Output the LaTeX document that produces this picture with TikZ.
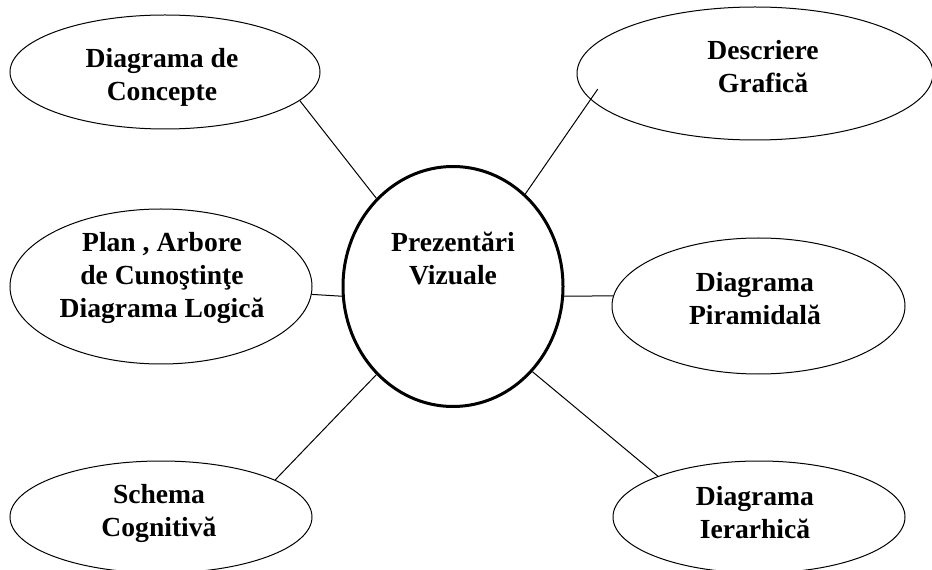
\documentclass[tikz,border=0pt]{standalone}
\usepackage{fontspec}
\setmainfont{Liberation Serif}
\usetikzlibrary{shapes.geometric}

\tikzset{every picture/.style={line width=0.75pt}}
\tikzset{
  bubble/.style={draw, ellipse, inner sep=0pt},
  hub/.style={bubble, line width=2.25pt},
  bubble text/.style={inner sep=0.75pt, align=center, font=\fontsize{20.7}{24.75}\selectfont\bfseries},
}

\begin{document}
\begin{tikzpicture}[x=0.75pt,y=0.75pt,yscale=-1,xscale=1]
	\useasboundingbox (0,0) rectangle (932,570);
	
	%Shape: Ellipse [id:dp48213957706612]
	\node[hub, minimum width=165pt, minimum height=180pt] (viz) at (453,286.5) {};
	%Shape: Ellipse [id:dp10482265790314]
	\node[bubble, minimum width=232.5pt, minimum height=85.5pt] (conc) at (165,72) {};
	%Shape: Ellipse [id:dp73920154861027]
	\node[bubble, minimum width=267pt, minimum height=99.75pt] (desc) at (755,73.5) {};
	%Shape: Ellipse [id:dp26617093458712]
	\node[bubble, minimum width=226.5pt, minimum height=116.25pt] (plan) at (161,286.5) {};
	%Shape: Ellipse [id:dp91573046628305]
	\node[bubble, minimum width=219.75pt, minimum height=102pt] (pir) at (758.5,306) {};
	%Shape: Ellipse [id:dp35048817264190]
	\node[bubble, minimum width=226.5pt, minimum height=84pt] (schema) at (161,517) {};
	%Shape: Ellipse [id:dp60927371548823]
	\node[bubble, minimum width=219pt, minimum height=84pt] (ier) at (759,517) {};
	
	%Straight Lines [id:da5529184036721]
	\draw (conc.-12.4) -- (viz.131.7);
	%Straight Lines [id:da8301746252938]
	\draw[shorten <=-9.5pt] (desc.189.4) -- (viz.52.3);
	%Straight Lines [id:da1947362085517]
	\draw (plan.-3.6) -- (viz.185);
	%Straight Lines [id:da6672018340925]
	\draw (pir.176.1) -- (viz.-5);
	%Straight Lines [id:da2490371863054]
	\draw (schema.18.2) -- (viz.229.6);
	%Straight Lines [id:da7308815926441]
	\draw (ier.158.4) -- (viz.-47.2);
	
	% Text Node
	\node[bubble text] (vizText) at (453,258.5) {Prezentări\\Vizuale};
	% Text Node
	\node[bubble text] (concText) at (162,77) {Diagrama de\\Concepte};
	% Text Node
	\node[bubble text] (descText) at (763,66.5) {Descriere\\Grafică};
	% Text Node
	\node[bubble text] (planText) at (162,277.5) {Plan , Arbore\\de Cunoştinţe\\Diagrama Logică};
	% Text Node
	\node[bubble text] (pirText) at (755,298.5) {Diagrama\\Piramidală};
	% Text Node
	\node[bubble text] (schemaText) at (159,513) {Schema\\Cognitivă};
	% Text Node
	\node[bubble text] (ierText) at (755,513) {Diagrama\\Ierarhică};
	
\end{tikzpicture}
\end{document}
